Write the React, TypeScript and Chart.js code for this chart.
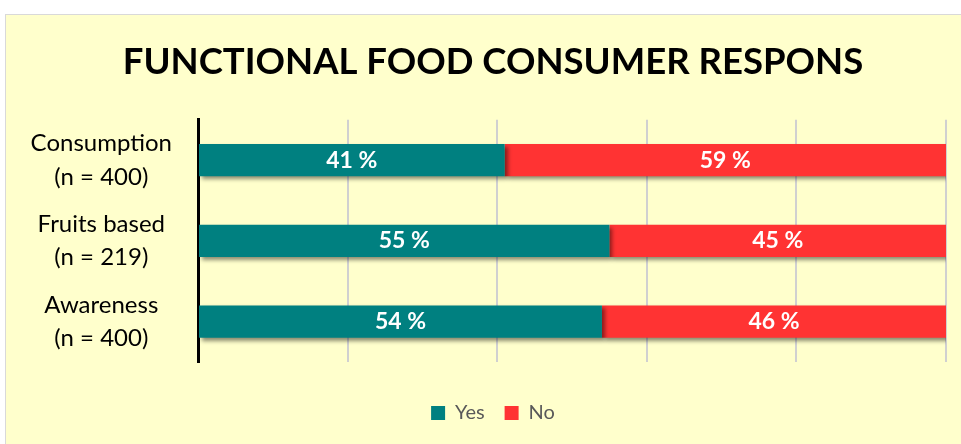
import React, { useEffect, useRef } from "react";
import { Chart, registerables } from "chart.js";

Chart.register(...registerables);

const categories: string[][] = [
  ["Consumption", "(n = 400)"],
  ["Fruits based", "(n = 219)"],
  ["Awareness", "(n = 400)"],
];
const yesValues = [41, 55, 54];
const noValues = [59, 45, 46];
const titleText = "FUNCTIONAL FOOD CONSUMER RESPONS";
const seriesNames = ["Yes", "No"];

const FONT = "Lato, 'Open Sans', sans-serif";

const shadowPlugin = {
  id: "barShadow",
  beforeDatasetsDraw(chart: any) {
    const ctx = chart.ctx;
    ctx.save();
    ctx.shadowColor = "rgba(0,0,0,0.45)";
    ctx.shadowOffsetX = 3;
    ctx.shadowOffsetY = 3;
    ctx.shadowBlur = 4;
  },
  afterDatasetsDraw(chart: any) {
    const ctx = chart.ctx;
    ctx.restore();
    ctx.save();
    ctx.fillStyle = "#FFFFFF";
    ctx.font = `bold 23px ${FONT}`;
    ctx.textAlign = "center";
    ctx.textBaseline = "middle";
    chart.data.datasets.forEach((ds: any, di: number) => {
      const meta = chart.getDatasetMeta(di);
      meta.data.forEach((el: any, i: number) => {
        const cx = (el.x + el.base) / 2;
        ctx.fillText(`${ds.data[i]} %`, cx, el.y);
      });
    });
    ctx.restore();
  },
};

export default function App() {
  const ref = useRef<HTMLCanvasElement>(null);
  useEffect(() => {
    if (!ref.current) return;
    const chart = new Chart(ref.current, {
      type: "bar",
      data: {
        labels: categories,
        datasets: [
          {
            label: seriesNames[0],
            data: yesValues,
            backgroundColor: "#008080",
            barPercentage: 0.4,
            categoryPercentage: 1,
          },
          {
            label: seriesNames[1],
            data: noValues,
            backgroundColor: "#FF3333",
            barPercentage: 0.4,
            categoryPercentage: 1,
          },
        ],
      },
      plugins: [shadowPlugin],
      options: {
        indexAxis: "y",
        animation: false,
        responsive: false,
        layout: { padding: { left: 0, right: 0, top: 0, bottom: 12 } },
        plugins: {
          tooltip: { enabled: false },
          title: {
            display: true,
            text: titleText,
            color: "#000000",
            font: { family: FONT, size: 36.5, weight: "bold" },
            padding: { top: 25, bottom: 36 },
          },
          legend: {
            position: "bottom",
            labels: {
              boxWidth: 14,
              boxHeight: 14,
              color: "#595959",
              font: { family: FONT, size: 20 },
              padding: 20,
            },
          },
        },
        scales: {
          x: {
            stacked: true,
            min: 0,
            max: 100,
            ticks: { display: false, stepSize: 20 },
            grid: { color: "#D0D0D0", lineWidth: 2, drawTicks: false },
            border: { display: false },
            afterFit: (axis: any) => {
              axis.height = 21;
            },
          },
          y: {
            stacked: true,
            ticks: {
              color: "#000000",
              font: { family: FONT, size: 24, lineHeight: 1.4 },
              crossAlign: "center",
              padding: 26,
            },
            grid: { display: false, drawTicks: false },
            border: { display: true, color: "#000000", width: 3 },
            afterFit: (axis: any) => {
              axis.width = 192;
            },
          },
          yRightSpacer: {
            type: "linear",
            position: "right",
            display: true,
            ticks: { display: false },
            grid: { display: false, drawTicks: false },
            border: { display: false },
            afterFit: (axis: any) => {
              axis.width = 34;
            },
          },
        },
      },
    } as any);
    return () => chart.destroy();
  }, []);

  return (
    <div
      style={{
        position: "fixed",
        left: 0,
        top: 0,
        width: 961,
        height: 444,
        background: "#FFFFFF",
        overflow: "hidden",
      }}
    >
      <div
        style={{
          position: "absolute",
          left: 5,
          top: 14,
          width: 975,
          height: 440,
          border: "1px solid #D9D9D9",
          background: "#FFFFCC",
        }}
      >
        <canvas ref={ref} width={974} height={430} style={{ width: 974, height: 430, display: "block" }} />
      </div>
    </div>
  );
}
